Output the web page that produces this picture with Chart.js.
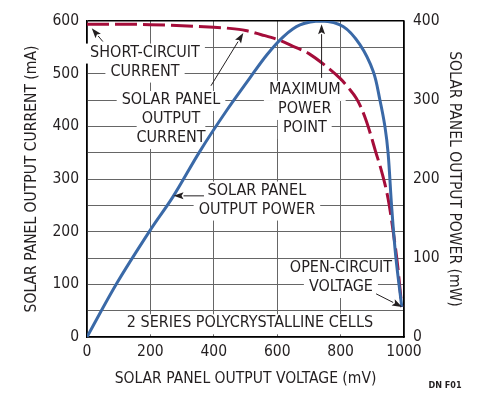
<!DOCTYPE html>
<html><head><meta charset="utf-8">
<script src="https://cdn.jsdelivr.net/npm/chart.js@4/dist/chart.umd.min.js"></script>
<style>html,body{margin:0;padding:0;background:#fff;}#wrap{width:483px;height:396px;position:relative;}</style>
</head><body><div id="wrap"><canvas id="c" width="483" height="396"></canvas></div>
<script>
// ---- data ----
const powerVoltage = [0, 94, 199, 272, 356, 441, 514, 567, 619, 672, 740, 808, 861, 903, 924, 940, 950, 961, 974, 993];
const powerValues  = [0, 68, 135, 178, 235, 287, 328, 357, 380, 395, 400, 393, 370, 336, 300, 266, 232, 165, 102, 38];
const currentVoltage = [0, 100, 200, 300, 400, 450, 500, 550, 600, 650, 700, 750, 800, 825, 850, 865, 880, 895, 910, 930, 950, 966, 980, 993];
const currentValues  = [594, 594, 593, 591, 588, 586, 582, 574, 565, 552, 538, 516, 490, 473, 453, 435, 412, 384, 353, 313, 262, 200, 135, 57];
const voltageTickLabels = [0, 200, 400, 600, 800, 1000];
const currentTickLabels = [0, 100, 200, 300, 400, 500, 600];
const powerTickLabels = [0, 100, 200, 300, 400];

const notes = [
  {lines: ['SHORT-CIRCUIT', 'CURRENT'], at: [183, 522], arrow: {from: [50, 561], to: [15, 586]}},
  {lines: ['SOLAR PANEL', 'OUTPUT', 'CURRENT'], at: [265, 414], arrow: {from: [391, 477], to: [493, 577]}},
  {lines: ['MAXIMUM', 'POWER', 'POINT'], at: [687, 433], arrow: {from: [740, 492], to: [740, 594]}},
  {lines: ['SOLAR PANEL', 'OUTPUT POWER'], at: [536, 260], arrow: {from: [369, 268], to: [273, 268]}},
  {lines: ['OPEN-CIRCUIT', 'VOLTAGE'], at: [801, 113], arrow: {from: [912, 82], to: [994, 57]}},
  {lines: ['2 SERIES POLYCRYSTALLINE CELLS'], at: [514, 26]}
];

const FONT = "'Liberation Sans Narrow', 'Arial Narrow', 'DejaVu Sans Condensed', sans-serif";
const INK = '#231f20';
const LINE_GAP = 19;

const notesPlugin = {
  id: 'notes',
  beforeDatasetsDraw(chart) {
    const {ctx, scales: {x, y}} = chart;
    ctx.save();
    ctx.font = '16px ' + FONT;
    ctx.textAlign = 'center';
    ctx.textBaseline = 'middle';
    const items = [];
    notes.forEach(n => {
      const cx = x.getPixelForValue(n.at[0]), cy = y.getPixelForValue(n.at[1]);
      n.lines.forEach((t, k) => {
        items.push({t, cx, ly: cy + (k - (n.lines.length - 1) / 2) * LINE_GAP});
      });
    });
    ctx.fillStyle = '#fff';
    items.forEach(it => {
      const w = ctx.measureText(it.t).width;
      ctx.fillRect(it.cx - w / 2 - 5, it.ly - 9, w + 10, 20);
    });
    ctx.fillStyle = INK;
    items.forEach(it => ctx.fillText(it.t, it.cx, it.ly));
    ctx.restore();
  },
  afterDatasetsDraw(chart) {
    const {ctx, scales: {x, y}} = chart;
    ctx.save();
    ctx.strokeStyle = INK; ctx.fillStyle = INK; ctx.lineWidth = 1;
    notes.forEach(n => {
      if (!n.arrow) return;
      const x1 = x.getPixelForValue(n.arrow.from[0]), y1 = y.getPixelForValue(n.arrow.from[1]);
      const x2 = x.getPixelForValue(n.arrow.to[0]), y2 = y.getPixelForValue(n.arrow.to[1]);
      const a = Math.atan2(y2 - y1, x2 - x1);
      const L = 10, H = 3.5;
      const bx = x2 - L * Math.cos(a), by = y2 - L * Math.sin(a);
      ctx.beginPath(); ctx.moveTo(x1, y1); ctx.lineTo(bx, by); ctx.stroke();
      ctx.beginPath();
      ctx.moveTo(x2, y2);
      ctx.lineTo(bx + H * Math.sin(a), by - H * Math.cos(a));
      ctx.lineTo(bx + 2 * Math.cos(a), by + 2 * Math.sin(a));
      ctx.lineTo(bx - H * Math.sin(a), by + H * Math.cos(a));
      ctx.closePath(); ctx.fill();
    });
    ctx.font = 'bold 9px ' + FONT;
    ctx.textAlign = 'center'; ctx.textBaseline = 'middle';
    ctx.fillText('DN F01', 445, 386);
    ctx.restore();
  }
};

const tickFont = {family: FONT, size: 15.5};
const titleFont = {family: FONT, size: 15.5};

new Chart(document.getElementById('c'), {
  type: 'line',
  data: {
    datasets: [
      {
        label: 'Solar panel output power',
        data: powerVoltage.map((v, i) => ({x: v, y: powerValues[i]})),
        yAxisID: 'y2',
        borderColor: '#3a69a7',
        borderWidth: 3,
        pointRadius: 0,
        tension: 0.35,
        fill: false
      },
      {
        label: 'Solar panel output current',
        data: currentVoltage.map((v, i) => ({x: v, y: currentValues[i]})),
        yAxisID: 'y',
        borderColor: '#a50d3a',
        borderWidth: 3,
        borderDash: [22, 6],
        pointRadius: 0,
        cubicInterpolationMode: 'monotone',
        fill: false
      }
    ]
  },
  options: {
    responsive: false,
    animation: false,
    devicePixelRatio: 1,
    layout: {padding: {top: 21, left: 0, right: 0, bottom: 0}},
    plugins: {legend: {display: false}, tooltip: {enabled: false}},
    scales: {
      x: {
        type: 'linear', min: 0, max: 1000,
        ticks: {stepSize: 200, color: INK, font: tickFont, padding: 6, maxRotation: 0,
          callback: v => voltageTickLabels.includes(v) ? String(v) : ''},
        grid: {color: '#666', lineWidth: 1, drawTicks: false},
        border: {color: '#000', width: 1.5},
        title: {display: true, text: 'SOLAR PANEL OUTPUT VOLTAGE (mV)', color: INK, font: titleFont, padding: {top: 0, bottom: 8}},
        afterFit: s => { s.height = 59; }
      },
      y: {
        position: 'left', min: 0, max: 600,
        ticks: {stepSize: 50, autoSkip: false, color: INK, font: tickFont, padding: 8,
          callback: v => currentTickLabels.includes(v) ? String(v) : ''},
        grid: {color: c => c.tick && c.tick.value === 600 ? '#000' : '#666',
               lineWidth: c => c.tick && c.tick.value === 600 ? 1.5 : 1, drawTicks: false},
        border: {color: '#000', width: 1.5},
        title: {display: true, text: 'SOLAR PANEL OUTPUT CURRENT (mA)', color: INK, font: titleFont, padding: {top: 23, bottom: 0}},
        afterFit: s => { s.width = 87; }
      },
      y2: {
        position: 'right', min: 0, max: 400,
        ticks: {stepSize: 100, color: INK, font: tickFont, padding: 9,
          callback: v => powerTickLabels.includes(v) ? String(v) : ''},
        grid: {display: false, drawTicks: false},
        border: {color: '#000', width: 1.5},
        title: {display: true, text: 'SOLAR PANEL OUTPUT POWER (mW)', color: INK, font: titleFont, padding: {top: 20, bottom: 0}},
        afterFit: s => { s.width = 79; }
      }
    }
  },
  plugins: [notesPlugin]
});
</script>
</body></html>
